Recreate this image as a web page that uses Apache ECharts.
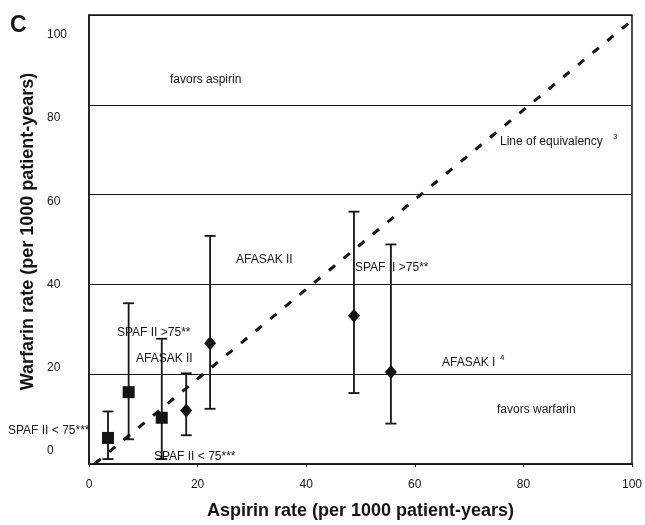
<!DOCTYPE html>
<html>
<head>
<meta charset="utf-8">
<script src="https://cdn.jsdelivr.net/npm/echarts@6/dist/echarts.min.js"></script>
<style>html,body{margin:0;padding:0;background:#fff;}#c{width:645px;height:525px;}</style>
</head>
<body>
<div id="c"></div>
<script>
// ---- data ----
const xTicks = [0, 20, 40, 60, 80, 100];
const yTicks = [0, 20, 40, 60, 80, 100];
// squares: [aspirin rate, warfarin rate]
const squarePoints = [[3.5, 5.8], [7.3, 16.0], [13.4, 10.3]];
const squareLow = [1.1, 5.5, 1.1];
const squareHigh = [11.7, 35.8, 27.9];
// diamonds
const diamondPoints = [[17.9, 11.9], [22.3, 26.9], [48.8, 33.0], [55.6, 20.5]];
const diamondLow = [6.4, 12.3, 15.8, 9.0];
const diamondHigh = [20.2, 50.8, 56.2, 48.9];
// line of equivalency end points
const equivalency = [[1.0, 0], [100, 98.8]];

const FONT = '"Liberation Sans", Arial, sans-serif';
const INK = '#141414';

const errData = squarePoints.map((p, i) => [p[0], squareLow[i], squareHigh[i]])
  .concat(diamondPoints.map((p, i) => [p[0], diamondLow[i], diamondHigh[i]]));

function txt(text, x, y, size, weight) {
  return { type: 'text', x: x, y: y, silent: true,
    style: { text: text, fill: INK, font: (weight || 'normal') + ' ' + (size || 12) + 'px ' + FONT, verticalAlign: 'middle', align: 'left' } };
}

const chart = echarts.init(document.getElementById('c'), null, { renderer: 'canvas' });
chart.setOption({
  backgroundColor: '#fff',
  animation: false,
  grid: { left: 89, right: 11, top: 15, bottom: 55, show: true, borderColor: INK, borderWidth: 1.5, backgroundColor: 'transparent' },
  xAxis: {
    type: 'value', min: 0, max: 100, interval: 20,
    axisLine: { show: true, lineStyle: { color: INK, width: 1.5 } },
    axisTick: { show: true, length: 3, lineStyle: { color: INK } },
    axisLabel: { color: INK, fontSize: 12, fontFamily: FONT, margin: 15 },
    splitLine: { show: false },
    name: 'Aspirin rate (per 1000 patient-years)', nameLocation: 'middle', nameGap: 38,
    nameTextStyle: { color: INK, fontSize: 18, fontWeight: 'bold', fontFamily: FONT }
  },
  yAxis: [{
    type: 'value', min: 0, max: 100, interval: 20,
    axisLine: { show: true, lineStyle: { color: INK, width: 1.5 } },
    axisTick: { show: false },
    axisLabel: { show: false },
    splitLine: { show: true, lineStyle: { color: INK, width: 1.2 } },
    name: 'Warfarin rate (per 1000 patient-years)', nameLocation: 'middle', nameGap: 52, nameRotate: 90,
    nameTextStyle: { color: INK, fontSize: 18, fontWeight: 'bold', fontFamily: FONT, padding: [0, 0, 0, 16] }
  }, {
    type: 'value', position: 'left', min: -3.08, max: 104.74,
    axisLine: { show: false }, axisTick: { show: false }, splitLine: { show: false },
    axisLabel: { show: true, customValues: yTicks, align: 'left', margin: 42, color: INK, fontSize: 12, fontFamily: FONT }
  }],
  series: [{
    type: 'line', data: equivalency, symbol: 'none', silent: true,
    lineStyle: { color: INK, width: 3, type: [8, 11] }, z: 2
  }, {
    type: 'custom', data: errData, z: 3, silent: true,
    renderItem: function (params, api) {
      const x = api.value(0);
      const lo = api.coord([x, api.value(1)]);
      const hi = api.coord([x, api.value(2)]);
      const w = 5.5;
      const st = { stroke: INK, lineWidth: 1.8 };
      return { type: 'group', children: [
        { type: 'line', shape: { x1: lo[0], y1: lo[1], x2: hi[0], y2: hi[1] }, style: st },
        { type: 'line', shape: { x1: lo[0] - w, y1: lo[1], x2: lo[0] + w, y2: lo[1] }, style: st },
        { type: 'line', shape: { x1: hi[0] - w, y1: hi[1], x2: hi[0] + w, y2: hi[1] }, style: st }
      ] };
    },
    encode: { x: 0, y: [1, 2] }
  }, {
    type: 'scatter', data: squarePoints, symbol: 'rect', symbolSize: 12, z: 4,
    itemStyle: { color: INK, opacity: 1 }
  }, {
    type: 'scatter', data: diamondPoints, symbol: 'diamond', symbolSize: [12, 14], z: 4,
    itemStyle: { color: INK, opacity: 1 }
  }],
  graphic: [
    txt('C', 10, 26, 23, 'bold'),
    txt('favors aspirin', 170, 80),
    txt('Line of equivalency', 500, 142),
    txt('3', 613, 137, 8),
    txt('AFASAK II', 236, 260),
    txt('SPAF II >75**', 355, 268),
    txt('AFASAK I', 442, 363),
    txt('4', 500, 358, 8),
    txt('favors warfarin', 497, 410),
    txt('SPAF II < 75***', 8, 431),
    txt('SPAF II < 75***', 154, 457),
    txt('SPAF II >75**', 117, 333),
    txt('AFASAK II', 136, 359)
  ]
});
</script>
</body>
</html>
